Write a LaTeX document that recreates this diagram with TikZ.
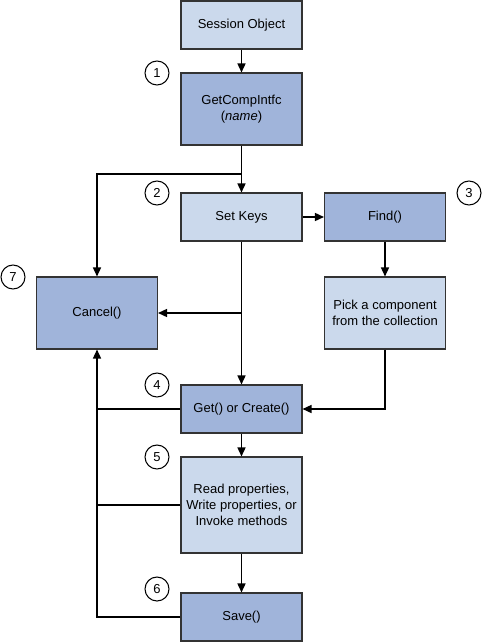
\documentclass[tikz,border=0pt]{standalone}
\usepackage{fontspec}
\setmainfont{Liberation Sans}
\usetikzlibrary{arrows.meta}
\definecolor{darkfill}{HTML}{A0B4DA}
\definecolor{lightfill}{HTML}{CBD9EC}
\definecolor{boxline}{HTML}{333333}
\begin{document}
\begin{tikzpicture}[x=0.75pt,y=-0.75pt,
  box/.style={draw=boxline,line width=0.8pt,minimum width=90.75pt,inner sep=1pt,
    align=center,font=\fontsize{9.75}{12}\selectfont},
  dbox/.style={box,fill=darkfill},
  lbox/.style={box,fill=lightfill},
  h48/.style={minimum height=36pt},
  h72/.style={minimum height=54pt},
  h96/.style={minimum height=72pt},
  conn/.style={line width=1.1pt,black},
  arr/.style={conn,-{Triangle[length=6.75pt,width=6pt]}},
  num/.style={circle,draw,line width=0.8pt,minimum size=18pt,inner sep=0pt,
    font=\fontsize{9.75}{12}\selectfont}]
\useasboundingbox (0,0) rectangle (483,642);
\node[lbox,h48] (sess) at (241.5,25) {Session Object};
\node[dbox,h72] (gci) at (241.5,109) {GetCompIntfc\\(\textit{name})};
\node[lbox,h48] (setk) at (241.5,217) {Set Keys};
\node[dbox,h48] (find) at (385,217) {Find()};
\node[dbox,h72] (cancel) at (97,313) {Cancel()};
\node[lbox,h72] (pick) at (385,313) {Pick a component\\from the collection};
\node[dbox,h48] (get) at (241.5,409) {Get() or Create()};
\node[lbox,h96] (read) at (241.5,505) {Read properties,\\Write properties, or\\Invoke methods};
\node[dbox,h48] (save) at (241.5,617) {Save()};
\node[num] (n1) at (157,73) {1};
\node[num] (n2) at (157,193) {2};
\node[num] (n3) at (469,193) {3};
\node[num] (n4) at (157,385) {4};
\node[num] (n5) at (157,457) {5};
\node[num] (n6) at (157,589) {6};
\node[num] (n7) at (13,277) {7};
\coordinate (j) at (241.5,174);
\coordinate (b) at (241.5,313);
\draw[arr] (sess.south) -- (gci.north);
\draw[conn] (gci.south) -- (j);
\draw[arr] (j) -- (setk.north);
\draw[arr] (j) -| (cancel.north);
\draw[arr] (setk.east) -- (find.west);
\draw[arr] (find.south) -- (pick.north);
\draw[arr] (setk.south) -- (get.north);
\draw[arr] (b) -- (cancel.east);
\draw[arr] (pick.south) |- (get.east);
\draw[arr] (get.south) -- (read.north);
\draw[arr] (read.south) -- (save.north);
\draw[arr] (save.west) -| (cancel.south);
\draw[conn] (get.west) -- (get.west -| cancel.south);
\draw[conn] (read.west) -- (read.west -| cancel.south);
\end{tikzpicture}
\end{document}
